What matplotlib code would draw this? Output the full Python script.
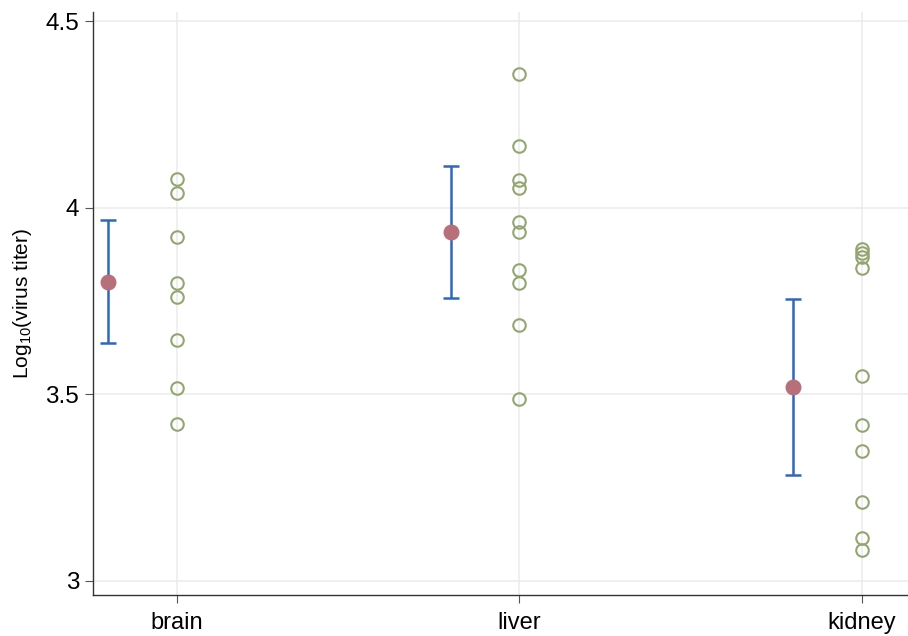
import matplotlib
matplotlib.use("Agg")
import matplotlib.pyplot as plt

plt.rcParams['font.family'] = ['Liberation Sans', 'DejaVu Sans']
plt.rcParams['mathtext.fontset'] = 'custom'
plt.rcParams['mathtext.rm'] = 'Liberation Sans'
plt.rcParams['mathtext.it'] = 'Liberation Sans:italic'

# tejidos y valores individuales (log10 del título viral)
organs = ["brain", "liver", "kidney"]
brain_vals = [4.078, 4.040, 3.921, 3.798, 3.761, 3.646, 3.516, 3.421]
liver_vals = [4.357, 4.166, 4.074, 4.054, 3.962, 3.934, 3.833, 3.797, 3.686, 3.488]
kidney_vals = [3.889, 3.879, 3.869, 3.839, 3.550, 3.417, 3.347, 3.212, 3.114, 3.083]

# media e intervalo de confianza de cada tejido
means = [3.802, 3.935, 3.520]
ci_low = [3.638, 3.757, 3.283]
ci_high = [3.966, 4.113, 3.755]

fig = plt.figure(figsize=(9.08, 6.36), dpi=100)
ax = fig.add_axes([0.1024, 0.0645, 0.8976, 0.9165])

green = "#93a672"
red = "#b7707a"
blue = "#2f67bf"

for i, vals in enumerate([brain_vals, liver_vals, kidney_vals]):
    ax.plot([i] * len(vals), vals, "o", mfc="none", mec=green, ms=9, mew=1.5,
            zorder=3)

# barras de error desplazadas a la izquierda de cada grupo
xm = [i - 0.2 for i in range(len(organs))]
err = [[m - l for m, l in zip(means, ci_low)], [h - m for m, h in zip(means, ci_high)]]
ax.errorbar(xm, means, yerr=err, fmt="none", ecolor=blue, elinewidth=1.8,
            capsize=6, capthick=1.8, zorder=2)
ax.plot(xm, means, "o", color=red, ms=10.5, zorder=4)

ax.set_xlim(-0.245, 2.135)
ax.set_ylim(2.9625, 4.524)
ax.set_xticks(range(len(organs)))
ax.set_xticklabels(organs)
ax.set_yticks([3, 3.5, 4, 4.5])
ax.set_yticklabels(["3", "3.5", "4", "4.5"])
ax.set_ylabel("Log$_{\\mathrm{10}}$(virus titer)", fontsize=15, labelpad=8)

ax.grid(True, color="#ececec", linewidth=1.2)
ax.set_axisbelow(True)
for s in ["top", "right"]:
    ax.spines[s].set_visible(False)
for s in ["left", "bottom"]:
    ax.spines[s].set_color("#333333")
    ax.spines[s].set_linewidth(1.0)
ax.tick_params(axis="y", labelsize=17.5, length=6, color="#555555", pad=4)
ax.tick_params(axis="x", labelsize=17, length=6, color="#555555", pad=6)

fig.savefig("out.png", dpi=100)
